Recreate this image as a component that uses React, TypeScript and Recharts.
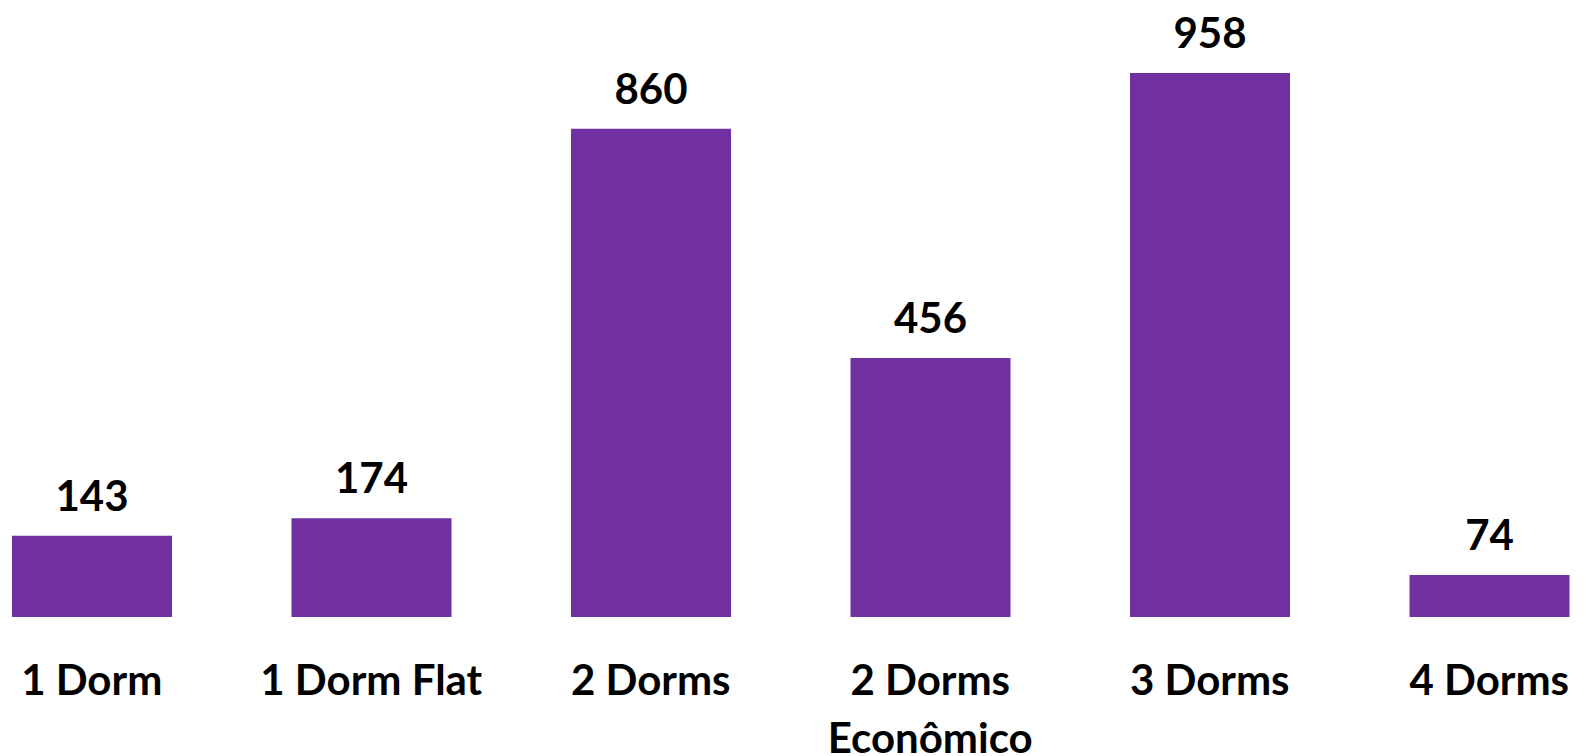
import React from 'react';
import { BarChart, Bar, XAxis, YAxis, LabelList } from 'recharts';

// unidades por tipologia
const categories = ['1 Dorm', '1 Dorm Flat', '2 Dorms', '2 Dorms Econômico', '3 Dorms', '4 Dorms'];
const units = [143, 174, 860, 456, 958, 74];

const data = categories.map((name, i) => ({ name, value: units[i] }));

const FONT = 'Lato, "Open Sans", sans-serif';
const PURPLE = '#7030A0';

// simple greedy wrap, long names go on two lines
function wrapLabel(label: string, maxChars = 12) {
    const lines: string[] = [];
    let cur = '';
    label.split(' ').forEach(w => {
        const next = cur ? cur + ' ' + w : w;
        if (next.length > maxChars && cur) {
            lines.push(cur);
            cur = w;
        } else {
            cur = next;
        }
    });
    if (cur) lines.push(cur);
    return lines;
}

function CategoryTick(props: any) {
    const { x, y, payload } = props;
    const lines = wrapLabel(String(payload.value));
    return (
        <text
            x={x}
            y={y + 78}
            textAnchor="middle"
            style={{ fontFamily: FONT, fontWeight: 700, fontSize: 42, fill: '#000' }}
        >
            {lines.map((l, i) => (
                <tspan key={i} x={x} dy={i === 0 ? 0 : 58}>{l}</tspan>
            ))}
        </text>
    );
}

export default function App() {
    return (
        <div style={{ position: 'absolute', left: 0, top: 0, width: 1589, height: 756, overflow: 'hidden', background: '#fff' }}>
            <div style={{ position: 'absolute', left: -47.75, top: 0 }}>
                <BarChart
                    width={1677}
                    height={756}
                    data={data}
                    margin={{ top: 49.2, right: 0, left: 0, bottom: 0 }}
                >
                    <XAxis
                        dataKey="name"
                        axisLine={false}
                        tickLine={false}
                        tickSize={0}
                        tickMargin={0}
                        interval={0}
                        height={139}
                        tick={<CategoryTick />}
                    />
                    <YAxis hide domain={[0, 1000]} />
                    <Bar dataKey="value" fill={PURPLE} barSize={160} isAnimationActive={false}>
                        <LabelList
                            dataKey="value"
                            position="top"
                            offset={25}
                            style={{ fontFamily: FONT, fontWeight: 700, fontSize: 42, fill: '#000' }}
                        />
                    </Bar>
                </BarChart>
            </div>
        </div>
    );
}
